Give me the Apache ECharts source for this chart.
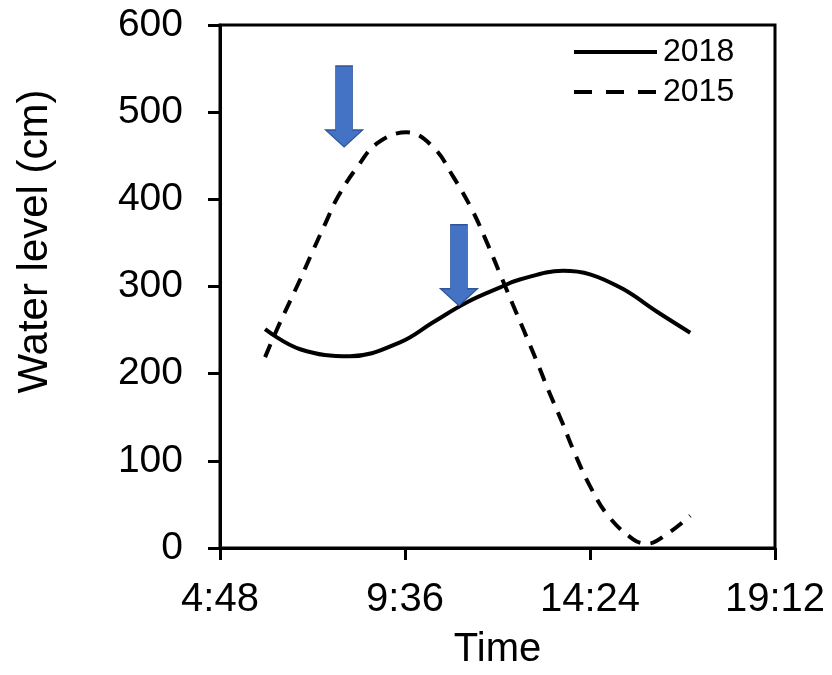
<!DOCTYPE html>
<html>
<head>
<meta charset="utf-8">
<script src="https://cdn.jsdelivr.net/npm/echarts@6/dist/echarts.min.js"></script>
<style>
html,body{margin:0;padding:0;background:#fff;}
#chart{width:832px;height:675px;}
</style>
</head>
<body>
<div id="chart"></div>
<script>
// Time in decimal hours, water level in cm
const times2018 = [5.97, 6.88, 8.17, 9.47, 10.33, 11.21, 12.07, 12.58, 13.70, 14.40, 15.26, 16.14, 17.00];
const level2018 = [251, 228, 220, 236, 259, 282, 299, 308, 318, 314, 297, 271, 247];

const times2015 = [5.97, 6.31, 6.88, 7.19, 7.52, 7.86, 8.36, 8.90, 9.65, 10.33, 10.85, 11.34, 11.73, 12.07, 12.40, 12.66, 13.03, 13.31, 13.67, 14.01, 14.40, 14.87, 15.52, 15.88, 16.40, 17.00];
const level2015 = [219, 254, 308, 339, 371, 403, 437, 465, 477, 460, 426, 388, 350, 314, 279, 252, 213, 182, 145, 108, 71, 37, 10, 5, 16, 37];

const seriesNames = ['2018', '2015'];
const xTicks = [4.8, 9.6, 14.4, 19.2];
const yTicks = [0, 100, 200, 300, 400, 500, 600];

// arrow annotations (tip positions)
const arrowTimes = [8.02, 11.0];
const arrowValues = [460, 278];

function pairs(xs, ys){ return xs.map((x,i)=>[x, ys[i]]); }
function fmtTime(v){
  const m = Math.round(v*60);
  const h = Math.floor(m/60), mm = m%60;
  return h + ':' + (mm<10?'0':'') + mm;
}

const FONT = 'Liberation Sans, Arial, sans-serif';
const arrowPath = 'path://M10,0 L27,0 L27,64 L37,64 L18.5,81 L0,64 L10,64 Z';

const chart = echarts.init(document.getElementById('chart'), null, {renderer:'canvas'});
chart.setOption({
  animation:false,
  backgroundColor:'#fff',
  grid:{left:220, right:57, top:25, bottom:126, show:true, borderColor:'#000', borderWidth:3},
  legend:{
    orient:'vertical', left:567, top:31, itemWidth:83, itemHeight:14, itemGap:8,
    itemStyle:{opacity:0},
    data:[
      {name:seriesNames[0], lineStyle:{width:4, type:'solid', color:'#000'}},
      {name:seriesNames[1], lineStyle:{width:4, type:[18,14], color:'#000'}}
    ],
    textStyle:{fontFamily:FONT, fontSize:32, color:'#000', padding:[0,0,0,1]}
  },
  xAxis:{
    type:'value', min:xTicks[0], max:xTicks[xTicks.length-1], interval:xTicks[1]-xTicks[0],
    name:'Time', nameLocation:'middle', nameGap:82,
    nameTextStyle:{fontFamily:FONT, fontSize:40, color:'#000'},
    axisLine:{show:true, onZero:false, lineStyle:{color:'#000', width:3}},
    axisTick:{show:true, inside:false, length:12, lineStyle:{color:'#000', width:3}},
    axisLabel:{fontFamily:FONT, fontSize:40, color:'#000', margin:32, formatter:fmtTime},
    splitLine:{show:false}
  },
  yAxis:{
    type:'value', position:'left', min:yTicks[0], max:yTicks[yTicks.length-1], interval:yTicks[1]-yTicks[0],
    name:'Water level (cm)', nameLocation:'middle', nameGap:164,
    nameTextStyle:{fontFamily:FONT, fontSize:42, color:'#000', padding:[0,0,0,90]},
    axisLine:{show:true, onZero:false, lineStyle:{color:'#000', width:3}},
    axisTick:{show:true, inside:false, length:12, lineStyle:{color:'#000', width:3}},
    axisLabel:{fontFamily:FONT, fontSize:39, color:'#000', margin:37},
    splitLine:{show:false}
  },
  series:[
    {
      name:seriesNames[0], type:'line', data:pairs(times2018, level2018),
      smooth:0.4, showSymbol:false, symbol:'none',
      lineStyle:{color:'#000', width:4, type:'solid'},
      itemStyle:{color:'#000'},
      z:3
    },
    {
      name:seriesNames[1], type:'line', data:pairs(times2015, level2015),
      smooth:0.4, showSymbol:false, symbol:'none',
      lineStyle:{color:'#000', width:4, type:[14,10]},
      itemStyle:{color:'#000'},
      z:2,
      markPoint:{
        symbol:arrowPath, symbolSize:[37,81], symbolOffset:[0,'-50%'],
        label:{show:false}, silent:true,
        itemStyle:{color:'#4472C4', borderColor:'#2F5597', borderWidth:1},
        data: arrowTimes.map((t,i)=>({coord:[t, arrowValues[i]]}))
      }
    }
  ]
});
</script>
</body>
</html>
